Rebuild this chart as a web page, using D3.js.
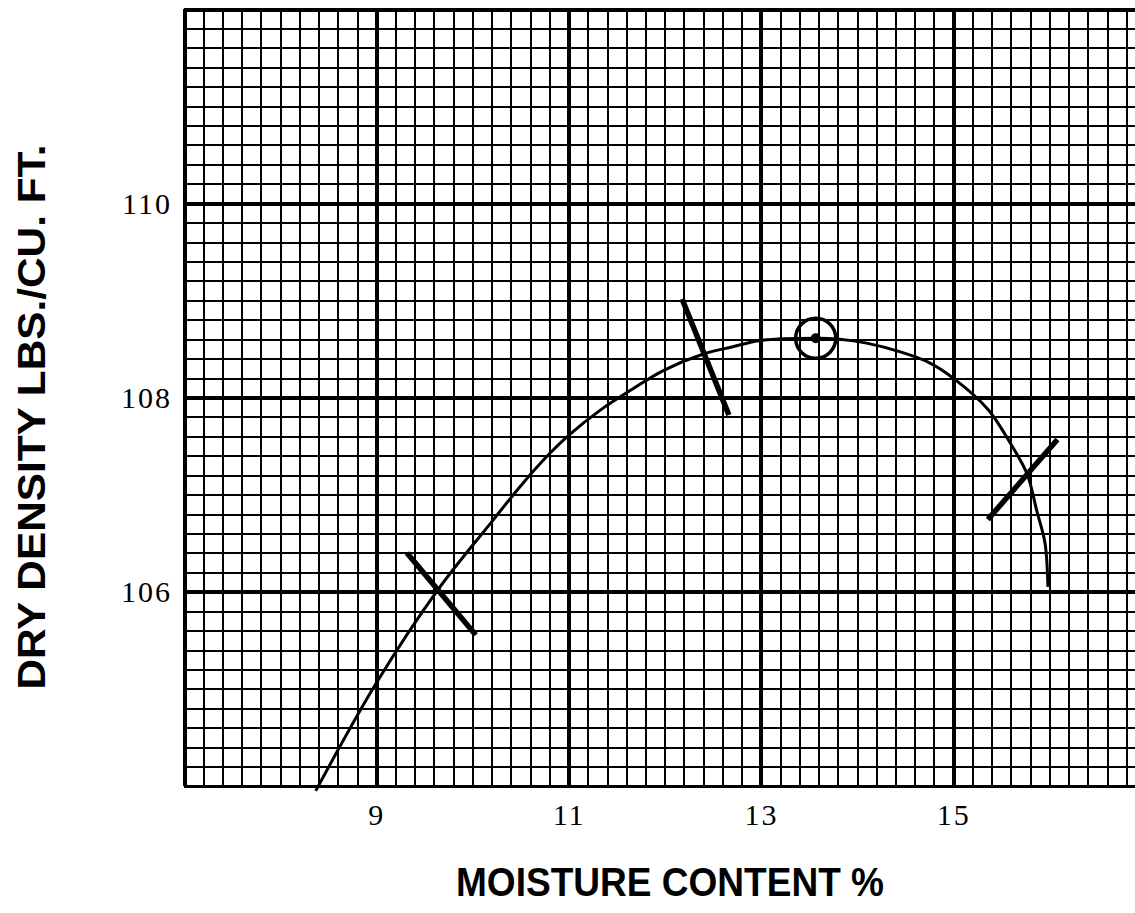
<!DOCTYPE html>
<html>
<head>
<meta charset="utf-8">
<script src="https://cdn.jsdelivr.net/npm/d3@7"></script>
<style>
body { margin: 0; background: #fff; }
svg { display: block; }
</style>
</head>
<body>
<script>
var moistureTicks = [9, 11, 13, 15];
var densityTicks = [106, 108, 110];

// the three compaction tests (marked with a stroke across the curve)
var testMoisture = [9.64, 12.41, 15.77];
var testDensity = [106.02, 108.45, 107.21];

// optimum moisture / max dry density (circled)
var optMoisture = [13.57];
var optDensity = [108.61];

// hand drawn curve
var curveMoisture = [8.37, 9.0, 9.64, 10.2, 10.51, 10.79, 11.0, 11.33, 11.67, 11.99, 12.41, 12.7,
                     12.98, 13.57, 13.82, 14.1, 14.45, 14.75, 15.0, 15.36, 15.63, 15.77, 15.87, 15.955, 15.985];
var curveDensity = [103.95, 105.06, 106.02, 106.72, 107.10, 107.41, 107.61, 107.87, 108.09, 108.28, 108.45, 108.52,
                    108.585, 108.61, 108.60, 108.56, 108.47, 108.36, 108.2, 107.88, 107.47, 107.21, 106.83, 106.5, 106.05];

function init(){

    var w = 1135;
    var h = 913;
    var left = 184, top = 9, bottom = 786;

    // pen strokes through the test points: angle (deg) and length each side of the point
    var tickStyle = [
        {angle: 50, back: 48, fwd: 59},
        {angle: 68, back: 59, fwd: 66},
        {angle: -49, back: 60, fwd: 46}
    ];

    var xScale = d3.scaleLinear()
                    .domain([7, 17])
                    .range([left, 1145.5]);

    var yScale = d3.scaleLinear()
                    .domain([104, 112])
                    .range([bottom, top]);

    var svg = d3.select("body")
                .append("svg")
                .attr("width", w)
                .attr("height", h);

    svg.append("rect")
        .attr("width", w)
        .attr("height", h)
        .attr("fill", "#fff");

    svg.append("defs")
        .append("clipPath")
        .attr("id", "plot")
        .append("rect")
        .attr("x", left - 2)
        .attr("y", top - 2)
        .attr("width", w - left + 2)
        .attr("height", bottom - top + 4);

    var grid = svg.append("g").attr("clip-path", "url(#plot)");

    // graph paper: 0.2 steps, heavy line every 2
    var minorX = d3.range(35, 86).map(function(i){ return i / 5; });
    var minorY = d3.range(520, 561).map(function(i){ return i / 5; });

    grid.append("g")
        .attr("transform", "translate(0," + bottom + ")")
        .call(d3.axisBottom(xScale).tickValues(minorX).tickSize(-(bottom - top)).tickFormat(""))
        .call(function(g){ g.select(".domain").remove(); })
        .selectAll("line")
        .attr("stroke", "#000")
        .attr("shape-rendering", "crispEdges")
        .attr("stroke-width", function(d){
            return Math.round(d * 5) % 10 == 5 ? 4 : 2;
        });

    grid.append("g")
        .attr("transform", "translate(" + left + ",0)")
        .call(d3.axisLeft(yScale).tickValues(minorY).tickSize(-(w - left)).tickFormat(""))
        .call(function(g){ g.select(".domain").remove(); })
        .selectAll("line")
        .attr("stroke", "#000")
        .attr("shape-rendering", "crispEdges")
        .attr("stroke-width", function(d){
            return Math.round(d * 5) % 10 == 0 ? 4 : 2;
        });

    // tick labels
    var xAxis = svg.append("g")
        .attr("transform", "translate(0," + bottom + ")")
        .call(d3.axisBottom(xScale).tickValues(moistureTicks).tickSize(0).tickPadding(18));
    var yAxis = svg.append("g")
        .attr("transform", "translate(" + left + ",0)")
        .call(d3.axisLeft(yScale).tickValues(densityTicks).tickSize(0).tickPadding(12));

    [xAxis, yAxis].forEach(function(a){
        a.select(".domain").remove();
        a.selectAll("text")
            .attr("fill", "#000")
            .style("font-family", "'Liberation Serif', serif")
            .style("font-size", "30px")
            .style("letter-spacing", "2px");
    });
    yAxis.selectAll("text").attr("dy", "0.34em");

    // curve
    var line = d3.line()
                .x(function(i){ return xScale(curveMoisture[i]); })
                .y(function(i){ return yScale(curveDensity[i]); })
                .curve(d3.curveCatmullRom);

    svg.append("path")
        .attr("d", line(d3.range(curveMoisture.length)))
        .attr("fill", "none")
        .attr("stroke", "#000")
        .attr("stroke-width", 3);

    // test point strokes
    svg.selectAll("line.test")
        .data(testMoisture)
        .enter()
        .append("line")
        .attr("class", "test")
        .each(function(d, i){
            var t = tickStyle[i];
            var a = t.angle * Math.PI / 180;
            var px = xScale(d), py = yScale(testDensity[i]);
            d3.select(this)
                .attr("x1", px - t.back * Math.cos(a))
                .attr("y1", py - t.back * Math.sin(a))
                .attr("x2", px + t.fwd * Math.cos(a))
                .attr("y2", py + t.fwd * Math.sin(a));
        })
        .attr("stroke", "#000")
        .attr("stroke-width", 5.5);

    // optimum
    svg.selectAll("circle.opt")
        .data(optMoisture)
        .enter()
        .append("circle")
        .attr("class", "opt")
        .attr("cx", function(d){ return xScale(d); })
        .attr("cy", function(d, i){ return yScale(optDensity[i]); })
        .attr("r", 20)
        .attr("fill", "none")
        .attr("stroke", "#000")
        .attr("stroke-width", 3.5);

    svg.selectAll("circle.dot")
        .data(optMoisture)
        .enter()
        .append("circle")
        .attr("class", "dot")
        .attr("cx", function(d){ return xScale(d); })
        .attr("cy", function(d, i){ return yScale(optDensity[i]); })
        .attr("r", 5)
        .attr("fill", "#000");

    // axis titles
    svg.append("text")
        .text("MOISTURE CONTENT %")
        .attr("x", 456)
        .attr("y", 896)
        .attr("textLength", 428)
        .attr("lengthAdjust", "spacingAndGlyphs")
        .style("font-family", "'Liberation Sans', Arial, sans-serif")
        .style("font-weight", "bold")
        .style("font-size", "40px");

    svg.append("text")
        .text("DRY DENSITY LBS./CU. FT.")
        .attr("transform", "translate(45,417) rotate(-90)")
        .attr("text-anchor", "middle")
        .attr("textLength", 545)
        .attr("lengthAdjust", "spacingAndGlyphs")
        .style("font-family", "'Liberation Sans', Arial, sans-serif")
        .style("font-weight", "bold")
        .style("font-size", "38px");
}

window.onload = init;
</script>
</body>
</html>
